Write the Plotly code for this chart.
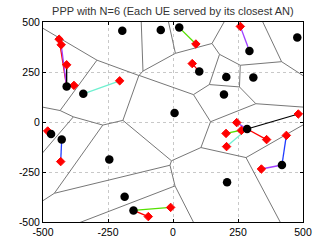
import numpy as np
import plotly.graph_objects as go

# Access nodes (ANs)
an_x = [-195, -47, 24, 294, 478, 101, 205, 309, 196, 6, 285, 419, 208, -409, -345, -469, -428, -245, -186, -152]
an_y = [456, 460, 472, 355, 422, 252, 225, 222, 137, 45, -35, -215, -301, 177, 141, -60, -87, -187, -374, -442]

# User equipments (UEs): serving AN index, position, link colour
ue_an = [2, 3, 5, 10, 10, 10, 10, 10, 10, 11, 11, 19, 19, 16, 15, 13, 13, 13, 13, 14]
ue_x = [88, 259, 74, 482, 245, 204, 206, 360, 263, 436, 340, -9, -95, -432, -482, -438, -430, -409, -381, -205]
ue_y = [390, 478, 292, 40, -3, -57, -123, -88, -42, -67, -235, -427, -473, -198, -45, 414, 386, 286, 183, 206]
ue_col = ["#55e000", "#a040ff", "#ff0000", "#000000", "#a040ff", "#55e000", "#70f0d0", "#ff0000", "#ff0000",
          "#1f3cff", "#a040ff", "#55e000", "#ff0000", "#1f3cff", "#55e000", "#ff0000", "#a040ff", "#000000",
          "#55e000", "#70f0d0"]

title_text = "PPP with N=6 (Each UE served by its closest AN)"
ticks = [-500, -250, 0, 250, 500]

# ---- Voronoi of the ANs by half-plane clipping ----
pts = np.array(list(zip(an_x, an_y)), dtype=float)
B = 5000.0
def clip(poly, si, sj, j):
    n = sj - si
    m = (si + sj) / 2
    out = []
    N = len(poly)
    for k in range(N):
        P, lab = poly[k]
        Q, _ = poly[(k + 1) % N]
        dP = np.dot(P - m, n)
        dQ = np.dot(Q - m, n)
        inP, inQ = dP <= 0, dQ <= 0
        if inP and inQ:
            out.append((P, lab))
        elif inP and not inQ:
            t = dP / (dP - dQ)
            I = P + t * (Q - P)
            out.append((P, lab))
            out.append((I, j))
        elif (not inP) and inQ:
            t = dP / (dP - dQ)
            I = P + t * (Q - P)
            out.append((I, lab))
    return out

vx, vy = [], []
for i in range(len(pts)):
    poly = [(np.array([-B, -B]), -1), (np.array([B, -B]), -1), (np.array([B, B]), -1), (np.array([-B, B]), -1)]
    for j in range(len(pts)):
        if j == i:
            continue
        poly = clip(poly, pts[i], pts[j], j)
        if not poly:
            break
    N = len(poly)
    for k in range(N):
        P, lab = poly[k]
        Q, _ = poly[(k + 1) % N]
        if lab > i:
            vx += [P[0], Q[0], None]
            vy += [P[1], Q[1], None]

fig = go.Figure()
fig.add_trace(go.Scatter(x=vx, y=vy, mode="lines", line=dict(color="#777777", width=1), hoverinfo="skip"))

for a, x, y, c in zip(ue_an, ue_x, ue_y, ue_col):
    fig.add_trace(go.Scatter(x=[an_x[a], x], y=[an_y[a], y], mode="lines", line=dict(color=c, width=1.3)))

fig.add_trace(go.Scatter(x=ue_x, y=ue_y, mode="markers",
                         marker=dict(symbol="diamond", size=6.5, color="#ff0000", line=dict(color="#ff0000", width=1))))
fig.add_trace(go.Scatter(x=an_x, y=an_y, mode="markers",
                         marker=dict(symbol="circle", size=8.5, color="#000000")))

axis_common = dict(range=[-500, 500], tickvals=ticks, ticktext=[str(t) for t in ticks],
                   showgrid=True, gridcolor="#c8c8c8", griddash="dot", gridwidth=1,
                   zeroline=False, showline=True, linecolor="#000000", linewidth=1, mirror="ticks",
                   ticks="inside", ticklen=3, tickcolor="#000000", automargin=False,
                   tickfont=dict(family="Liberation Sans, Arial", size=10.5, color="#000000"))
fig.update_layout(
    width=335, height=251,
    margin=dict(l=43, r=32, t=22, b=29, autoexpand=False),
    paper_bgcolor="white", plot_bgcolor="white",
    showlegend=False,
    title=dict(text=title_text, x=0.516, xanchor="center", y=0.955, yanchor="middle",
               font=dict(family="Liberation Sans, Arial", size=11, color="#333333")),
    xaxis=dict(**axis_common),
    yaxis=dict(**axis_common),
)
fig.write_html("out.html", config={"displayModeBar": False},
               post_script="document.body.style.margin='0';document.body.style.overflow='hidden';")
